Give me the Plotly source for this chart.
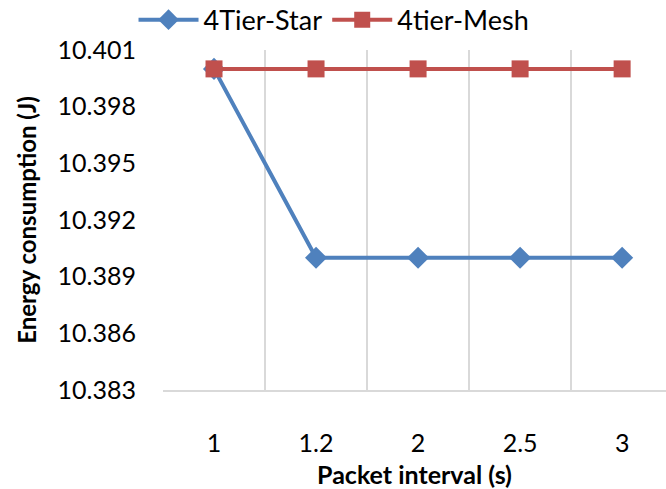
import plotly.graph_objects as go

categories = ["1", "1.2", "2", "2.5", "3"]
star = [10.400, 10.390, 10.390, 10.390, 10.390]
mesh = [10.400, 10.400, 10.400, 10.400, 10.400]
ytick_vals = [10.383, 10.386, 10.389, 10.392, 10.395, 10.398, 10.401]

FONT = "Lato"

fig = go.Figure()
fig.add_trace(go.Scatter(
    x=categories, y=star, name="4Tier-Star", mode="lines+markers",
    line=dict(color="#4F81BD", width=4),
    marker=dict(symbol="diamond", size=17, color="#4F81BD"),
))
fig.add_trace(go.Scatter(
    x=categories, y=mesh, name="4tier-Mesh", mode="lines+markers",
    line=dict(color="#C0504D", width=4),
    marker=dict(symbol="square", size=17, color="#C0504D"),
))

fig.update_layout(
    width=666, height=489,
    margin=dict(l=163, r=0, t=50, b=99, autoexpand=False),
    paper_bgcolor="white", plot_bgcolor="white",
    font=dict(family=FONT, size=25, color="black"),
    showlegend=True,
    legend=dict(orientation="h", x=0.34, xanchor="center", y=1.088, yanchor="middle",
                font=dict(family=FONT, size=27), traceorder="normal",
                itemwidth=60, tracegroupgap=0),
    xaxis=dict(
        type="category", range=[-0.5, 4.43],
        tickson="boundaries", showgrid=True, gridcolor="#D9D9D9", gridwidth=2,
        showline=True, linecolor="#D9D9D9", linewidth=2,
        ticks="", ticklabelstandoff=30, zeroline=False,
        title=dict(text="<b>Packet interval (s)</b>", font=dict(family=FONT, size=25), standoff=10),
    ),
    yaxis=dict(
        range=[10.383, 10.401], tickvals=ytick_vals,
        ticktext=[f"{v:.3f}" for v in ytick_vals],
        showgrid=False, zeroline=False, showline=False, ticks="",
        ticklabelstandoff=26,
        title=dict(text="<b>Energy consumption (J)</b>", font=dict(family=FONT, size=24), standoff=14),
    ),
)

fig.write_html("out.html")
